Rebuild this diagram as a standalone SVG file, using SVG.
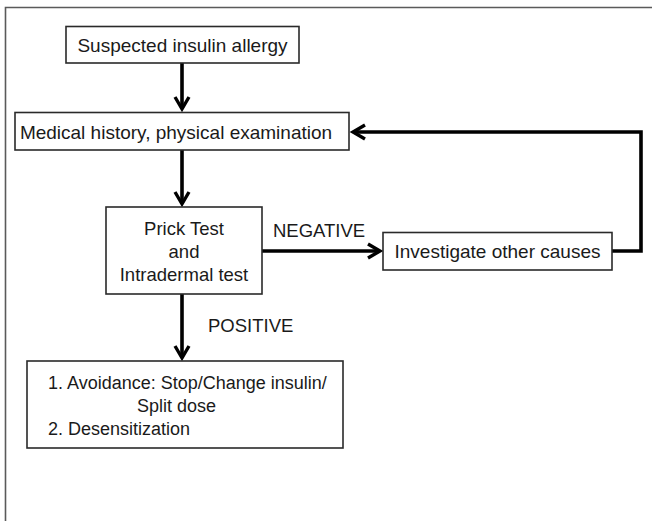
<svg xmlns="http://www.w3.org/2000/svg" width="652" height="521" viewBox="0 0 652 521">
<style>
.box{fill:#fff;stroke:#2a2a2a;stroke-width:1.6}
.t{font-family:"Liberation Sans",Arial,sans-serif;fill:#1a1a1a}
.c{fill:none;stroke:#000;stroke-width:3.6;stroke-linejoin:miter}
</style>
<defs>
<marker id="ah" markerUnits="userSpaceOnUse" viewBox="-16 -10 20 20" markerWidth="20" markerHeight="20" refX="0" refY="0" orient="auto">
<path d="M-12,-7 L0,0 L-12,7" fill="none" stroke="#000" stroke-width="3.4" stroke-linejoin="miter"/>
</marker>
</defs>
<rect width="652" height="521" fill="#fff"/>
<g id="frame">
<path d="M5.5,521 V7.5 H652" fill="none" stroke="#5a5a5a" stroke-width="1.6"/>
</g>
<g id="connectors">
<path class="c" d="M182,63 V109" marker-end="url(#ah)"/>
<path class="c" d="M182,150 V204" marker-end="url(#ah)"/>
<path class="c" d="M262,251 H380" marker-end="url(#ah)"/>
<path class="c" d="M612,251 H641 V132 H353" marker-end="url(#ah)"/>
<path class="c" d="M182,294 V358" marker-end="url(#ah)"/>
<text class="t" x="273" y="237" font-size="18.5">NEGATIVE</text>
<text class="t" x="208" y="332" font-size="18.5">POSITIVE</text>
</g>
<g id="n1">
<rect class="box" x="66" y="26.5" width="233" height="36.5"/>
<text class="t" x="182.5" y="52" font-size="19" text-anchor="middle">Suspected insulin allergy</text>
</g>
<g id="n2">
<rect class="box" x="15" y="112.5" width="334" height="37.5"/>
<text class="t" x="176" y="139" font-size="19" text-anchor="middle">Medical history, physical examination</text>
</g>
<g id="n3">
<rect class="box" x="106" y="207" width="156" height="87"/>
<text class="t" x="184" y="235" font-size="18.5" text-anchor="middle">Prick Test</text>
<text class="t" x="184" y="258" font-size="18.5" text-anchor="middle">and</text>
<text class="t" x="184" y="281" font-size="18.5" text-anchor="middle">Intradermal test</text>
</g>
<g id="n4">
<rect class="box" x="383" y="232.5" width="229" height="37.5"/>
<text class="t" x="497.5" y="258" font-size="19" text-anchor="middle">Investigate other causes</text>
</g>
<g id="n5">
<rect class="box" x="27" y="361" width="316" height="87"/>
<text class="t" x="48" y="389" font-size="18">1. Avoidance: Stop/Change insulin/</text>
<text class="t" x="176.5" y="412" font-size="18" text-anchor="middle">Split dose</text>
<text class="t" x="48" y="435" font-size="18">2. Desensitization</text>
</g>
</svg>
